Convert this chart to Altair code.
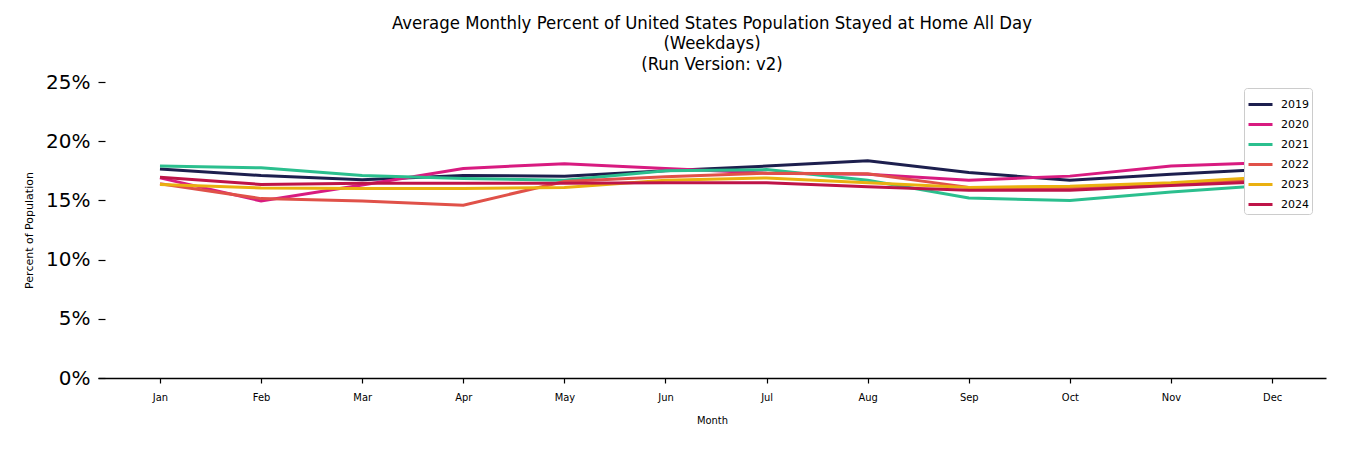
import altair as alt
import pandas as pd

months = ["Jan", "Feb", "Mar", "Apr", "May", "Jun", "Jul", "Aug", "Sep", "Oct", "Nov", "Dec"]
years = ["2019", "2020", "2021", "2022", "2023", "2024"]

v2019 = [17.65, 17.1, 16.75, 17.1, 17.05, 17.5, 17.9, 18.35, 17.35, 16.7, 17.2, 17.65]
v2020 = [16.9, 14.95, 16.3, 17.7, 18.1, 17.7, 17.3, 17.2, 16.7, 17.05, 17.9, 18.2]
v2021 = [17.9, 17.75, 17.1, 16.85, 16.7, 17.5, 17.6, 16.7, 15.2, 15.0, 15.7, 16.3]
v2022 = [16.4, 15.15, 14.95, 14.6, 16.6, 17.0, 17.3, 17.25, 16.1, 16.0, 16.4, 16.8]
v2023 = [16.35, 16.05, 16.0, 16.0, 16.1, 16.7, 16.9, 16.5, 16.1, 16.2, 16.5, 17.0]
v2024 = [16.95, 16.35, 16.45, 16.45, 16.45, 16.5, 16.5, 16.15, 15.85, 15.85, 16.25, 16.6]

colors = ["#1d1f4e", "#d81b80", "#2bbf8e", "#e05149", "#eab010", "#be1448"]

series = [v2019, v2020, v2021, v2022, v2023, v2024]
rows = []
for yr, vals in zip(years, series):
    for i, (m, v) in enumerate(zip(months, vals)):
        rows.append({"Year": yr, "MonthIdx": i, "Month": m, "Pct": v})
df = pd.DataFrame(rows)

month_expr = "[" + ",".join("'%s'" % m for m in months) + "][datum.value]"

title = alt.TitleParams(
    ["Average Monthly Percent of United States Population Stayed at Home All Day",
     "(Weekdays)", "(Run Version: v2)"],
    fontSize=18.4, font="DejaVu Sans Condensed", fontWeight="normal", lineHeight=20.5,
    anchor="middle", offset=-1, color="black",
)

chart = alt.Chart(df, title=title).mark_line(strokeWidth=3).encode(
    x=alt.X("MonthIdx:Q",
            scale=alt.Scale(domain=[-0.613, 11.533], nice=False, zero=False),
            axis=alt.Axis(title="Month", values=list(range(12)), labelExpr=month_expr,
                          grid=False, domainColor="black", domainWidth=1.5,
                          tickColor="black", tickSize=5, tickWidth=1.2,
                          labelFont="DejaVu Sans Condensed", labelFontSize=11,
                          labelPadding=8, labelColor="black",
                          titleFont="DejaVu Sans Condensed", titleFontSize=11,
                          titleFontWeight="normal", titlePadding=12, titleColor="black")),
    y=alt.Y("Pct:Q",
            scale=alt.Scale(domain=[0, 25], nice=False),
            axis=alt.Axis(title="Percent of Population", values=[0, 5, 10, 15, 20, 25],
                          labelExpr="datum.value + '%'", grid=False, domain=False,
                          offset=-7, tickSize=7, tickColor="black", tickWidth=1.2,
                          labelFont="DejaVu Sans", labelFontSize=20, labelColor="black",
                          labelPadding=8,
                          titleFont="DejaVu Sans", titleFontSize=11,
                          titleFontWeight="normal", titlePadding=11, titleColor="black")),
    color=alt.Color("Year:N", scale=alt.Scale(domain=years, range=colors),
                    legend=alt.Legend(title=None, orient="none", legendX=1146, legendY=6,
                                      fillColor="white", strokeColor="#cccccc",
                                      cornerRadius=3, padding=3,
                                      symbolType="stroke", symbolSize=576,
                                      symbolStrokeWidth=3, labelFontSize=11,
                                      labelFont="DejaVu Sans", labelColor="black",
                                      labelOffset=7, rowPadding=-5)),
).properties(
    width=1228, height=296,
    padding={"left": 90, "top": 74, "right": 16, "bottom": 60},
    autosize=alt.AutoSizeParams(type="none"),
).configure_view(stroke=None)

chart.save("out.html", embed_options={"renderer": "svg", "actions": False})
